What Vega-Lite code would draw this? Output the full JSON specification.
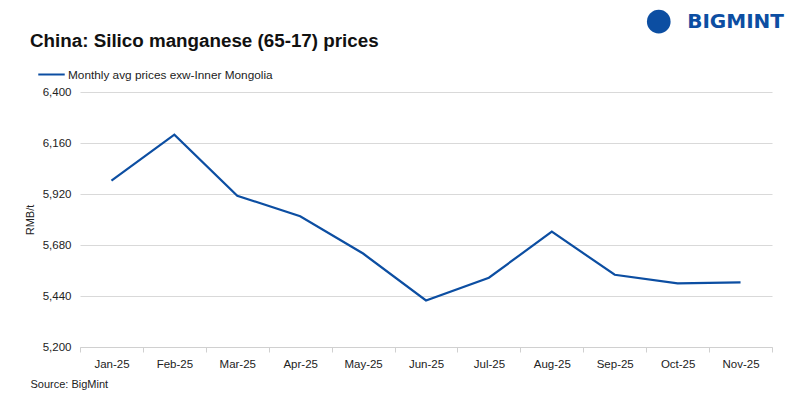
{
  "$schema": "https://vega.github.io/schema/vega-lite/v6.json",
  "width": 692,
  "height": 255,
  "autosize": "none",
  "padding": {"left": 80, "top": 92, "right": 28, "bottom": 52},
  "background": "white",
  "config": {
    "font": "Liberation Sans",
    "view": {"stroke": null}
  },
  "title": {
    "text": "China: Silico manganese (65-17) prices",
    "anchor": "start",
    "frame": "group",
    "dx": -50,
    "offset": -41,
    "fontSize": 18.8,
    "fontWeight": "bold",
    "color": "#111111",
    "font": "Liberation Sans"
  },
  "data": {
    "values": [
      {"month": "Jan-25", "price": 5983, "series": "Monthly avg prices exw-Inner Mongolia"},
      {"month": "Feb-25", "price": 6199, "series": "Monthly avg prices exw-Inner Mongolia"},
      {"month": "Mar-25", "price": 5912, "series": "Monthly avg prices exw-Inner Mongolia"},
      {"month": "Apr-25", "price": 5815, "series": "Monthly avg prices exw-Inner Mongolia"},
      {"month": "May-25", "price": 5640, "series": "Monthly avg prices exw-Inner Mongolia"},
      {"month": "Jun-25", "price": 5419, "series": "Monthly avg prices exw-Inner Mongolia"},
      {"month": "Jul-25", "price": 5526, "series": "Monthly avg prices exw-Inner Mongolia"},
      {"month": "Aug-25", "price": 5743, "series": "Monthly avg prices exw-Inner Mongolia"},
      {"month": "Sep-25", "price": 5540, "series": "Monthly avg prices exw-Inner Mongolia"},
      {"month": "Oct-25", "price": 5499, "series": "Monthly avg prices exw-Inner Mongolia"},
      {"month": "Nov-25", "price": 5504, "series": "Monthly avg prices exw-Inner Mongolia"}
    ]
  },
  "layer": [
    {
      "mark": {"type": "line", "strokeWidth": 2.2, "interpolate": "linear"},
      "encoding": {
        "x": {
          "field": "month",
          "type": "ordinal",
          "sort": null,
          "bandPosition": 0.5,
          "scale": {"type": "band", "paddingInner": 0, "paddingOuter": 0},
          "axis": {
            "title": "Source: BigMint",
            "titleAnchor": "start",
            "titleAlign": "left",
            "titleX": -50,
            "titleY": 31,
            "titleFontSize": 11,
            "titleFontWeight": "normal",
            "titleColor": "#222222",
            "labelAngle": 0,
            "labelFontSize": 11.5,
            "labelColor": "#222222",
            "labelPadding": 6,
            "tickBand": "extent",
            "tickColor": "#d0d0d0",
            "tickSize": 5,
            "domainColor": "#d0d0d0",
            "grid": false
          }
        },
        "y": {
          "field": "price",
          "type": "quantitative",
          "scale": {"domain": [5200, 6400], "nice": false, "zero": false},
          "axis": {
            "title": "RMB/t",
            "titleFontSize": 11,
            "titleFontWeight": "normal",
            "titleColor": "#222222",
            "titlePadding": 7,
            "values": [5200, 5440, 5680, 5920, 6160, 6400],
            "format": ",.0f",
            "labelFontSize": 11.5,
            "labelColor": "#222222",
            "labelPadding": 9,
            "ticks": false,
            "domain": false,
            "grid": true,
            "gridColor": "#d9d9d9",
            "gridWidth": 1
          }
        },
        "color": {
          "field": "series",
          "type": "nominal",
          "scale": {"range": ["#0c4ea2"]},
          "legend": {
            "title": null,
            "orient": "none",
            "legendX": -43,
            "legendY": -32,
            "symbolType": "stroke",
            "symbolSize": 700,
            "symbolStrokeWidth": 2,
            "labelFontSize": 11.8,
            "labelColor": "#222222",
            "labelOffset": 2,
            "labelLimit": 400
          }
        }
      }
    },
    {
      "data": {"values": [{"logo": "BIGMINT"}]},
      "mark": {"type": "text", "fontSize": 20, "fontWeight": "bold", "color": "#0c4ea2", "align": "center", "baseline": "middle", "font": "DejaVu Sans", "clip": false, "dx": -5},
      "encoding": {
        "x": {"datum": "Nov-25", "bandPosition": 0.5},
        "y": {"datum": 6731},
        "text": {"field": "logo"}
      }
    },
    {
      "data": {"values": [{"logo": "icon"}]},
      "mark": {"type": "point", "shape": "circle", "filled": true, "color": "#0c4ea2", "opacity": 1, "size": 560, "clip": false},
      "encoding": {
        "x": {"datum": "Oct-25", "bandPosition": 0.2},
        "y": {"datum": 6731}
      }
    }
  ]
}
